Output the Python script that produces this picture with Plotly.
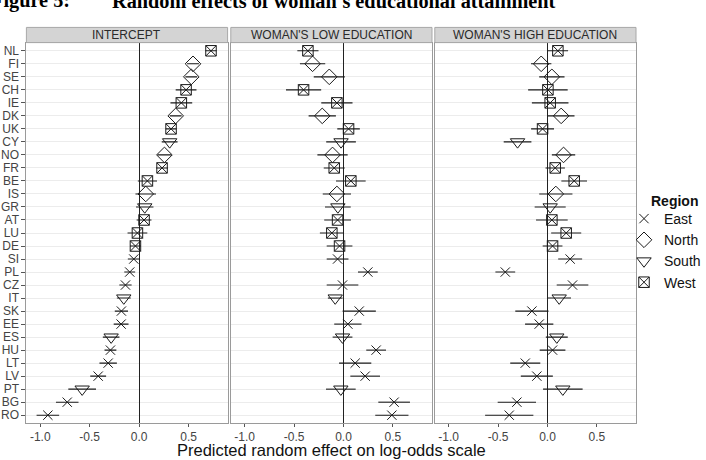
import plotly.graph_objects as go

countries = ["NL", "FI", "SE", "CH", "IE", "DK", "UK", "CY", "NO", "FR", "BE", "IS", "GR", "AT", "LU",
             "DE", "SI", "PL", "CZ", "IT", "SK", "EE", "ES", "HU", "LT", "LV", "PT", "BG", "RO"]
regions = ["West", "North", "North", "West", "West", "North", "West", "South", "North", "West", "West",
           "North", "South", "West", "West", "West", "East", "East", "East", "South", "East", "East",
           "South", "East", "East", "East", "South", "East", "East"]

intercept = [0.727, 0.545, 0.528, 0.475, 0.427, 0.370, 0.323, 0.309, 0.256, 0.232, 0.084, 0.067, 0.057,
             0.050, -0.017, -0.037, -0.054, -0.095, -0.138, -0.155, -0.179, -0.182, -0.283, -0.290,
             -0.313, -0.414, -0.576, -0.727, -0.923]
intercept_err = [0.057, 0.06, 0.06, 0.105, 0.11, 0.06, 0.055, 0.08, 0.07, 0.06, 0.097, 0.104, 0.088,
                 0.075, 0.1, 0.055, 0.06, 0.055, 0.062, 0.07, 0.067, 0.075, 0.084, 0.06, 0.088, 0.08,
                 0.14, 0.114, 0.114]

low_edu = [-0.36, -0.313, -0.144, -0.404, -0.067, -0.215, 0.051, -0.025, -0.111, -0.094, 0.074, -0.067,
           -0.057, -0.06, -0.118, -0.04, -0.06, 0.246, -0.01, -0.084, 0.159, 0.044, -0.01, 0.33, 0.118,
           0.219, -0.027, 0.512, 0.489]
low_edu_err = [0.107, 0.128, 0.157, 0.178, 0.158, 0.138, 0.114, 0.15, 0.153, 0.106, 0.15, 0.143, 0.13,
               0.135, 0.121, 0.13, 0.11, 0.1, 0.16, 0.074, 0.168, 0.138, 0.1, 0.1, 0.163, 0.15, 0.15,
               0.16, 0.168]

high_edu = [0.105, -0.064, 0.044, 0.004, 0.027, 0.138, -0.05, -0.303, 0.162, 0.078, 0.27, 0.084, 0.027,
            0.044, 0.189, 0.051, 0.229, -0.427, 0.253, 0.118, -0.158, -0.084, 0.094, 0.051, -0.225,
            -0.108, 0.155, -0.31, -0.387]
high_edu_err = [0.103, 0.103, 0.128, 0.2, 0.185, 0.135, 0.116, 0.14, 0.118, 0.098, 0.13, 0.168, 0.157,
                0.16, 0.152, 0.1, 0.121, 0.1, 0.16, 0.12, 0.168, 0.143, 0.111, 0.13, 0.152, 0.162, 0.2,
                0.194, 0.244]

panel_titles = ["INTERCEPT", "WOMAN'S LOW EDUCATION", "WOMAN'S HIGH EDUCATION"]
panel_values = [intercept, low_edu, high_edu]
panel_errors = [intercept_err, low_edu_err, high_edu_err]
region_order = ["East", "North", "South", "West"]
tick_vals = [-1.0, -0.5, 0.0, 0.5]
tick_text = ["-1.0", "-0.5", "0.0", "0.5"]
x_title = "Predicted random effect on log-odds scale"
legend_title = "Region"
fig_label = "Figure 5:"
fig_title = "Random effects of woman's educational attainment"

symbols = {"East": "x-thin-open", "North": "diamond-open", "South": "triangle-down-open", "West": "square-x-open"}
sizes = {"East": 9.3, "North": 12, "South": 12.5, "West": 10.5}

W, H = 706, 460
ML, MR, MT, MB = 26, 70, 43, 37
PW = W - ML - MR
PH = H - MT - MB
panel_px = [(26.4, 227.6), (230.8, 432.0), (434.8, 636.0)]
domains = [[(a - ML) / PW, min(1.0, (b - ML) / PW)] for a, b in panel_px]


def py(px):
    """pixel row (from top) -> paper y"""
    return (MT + PH - px) / PH


def pxx(px):
    return (px - ML) / PW


INK = "#1a1a1a"
FONT = "Liberation Sans"

fig = go.Figure()
for p in range(3):
    xa = "x" if p == 0 else f"x{p+1}"
    ya = "y" if p == 0 else f"y{p+1}"
    for reg in region_order:
        idx = [i for i, r in enumerate(regions) if r == reg]
        fig.add_trace(go.Scatter(
            x=[panel_values[p][i] for i in idx],
            y=[countries[i] for i in idx],
            mode="markers",
            name=reg,
            legendgroup=reg,
            showlegend=(p == 0),
            xaxis=xa, yaxis=ya,
            marker=dict(symbol=symbols[reg], size=sizes[reg], color=INK,
                        line=dict(color=INK, width=1)),
            error_x=dict(type="data", array=[panel_errors[p][i] for i in idx],
                         symmetric=True, color=INK, thickness=1.1, width=0),
        ))

n = len(countries)
layout = dict(
    width=W, height=H, autosize=False,
    margin=dict(l=ML, r=MR, t=MT, b=MB, pad=0, autoexpand=False),
    plot_bgcolor="white", paper_bgcolor="white",
    font=dict(family=FONT, color=INK),
    showlegend=True,
    legend=dict(
        font=dict(size=14, family=FONT, color="#111"),
        x=pxx(624), xanchor="left", y=py(203), yanchor="top",
        bgcolor="rgba(0,0,0,0)", itemwidth=30, tracegroupgap=0,
    ),
)
for p in range(3):
    xk = "xaxis" if p == 0 else f"xaxis{p+1}"
    yk = "yaxis" if p == 0 else f"yaxis{p+1}"
    layout[xk] = dict(
        domain=domains[p], range=[-1.14, 0.895], anchor="y" if p == 0 else f"y{p+1}",
        tickvals=tick_vals, ticktext=tick_text, ticks="outside", ticklen=3, tickcolor="#555",
        tickfont=dict(size=12, family=FONT, color="#444"),
        showgrid=False, zeroline=True, zerolinecolor="#222", zerolinewidth=1.2,
        showline=True, mirror=True, linecolor="#9a9a9a", linewidth=1, automargin=False,
    )
    layout[yk] = dict(
        domain=[0, 1], anchor="x" if p == 0 else f"x{p+1}",
        type="category", categoryorder="array", categoryarray=countries,
        tickmode="array", tickvals=countries, ticktext=countries,
        range=[n - 1 + 0.6, -0.6],
        showgrid=True, gridcolor="#ececec", gridwidth=1,
        ticks="outside" if p == 0 else "", ticklen=4, tickcolor="#555",
        showticklabels=(p == 0),
        tickfont=dict(size=12, family=FONT, color="#444"),
        showline=True, mirror=True, linecolor="#9a9a9a", linewidth=1,
        zeroline=False, automargin=False,
    )
    if p > 0:
        layout[yk]["matches"] = "y"
fig.update_layout(**layout)

shapes = []
annotations = []
for p in range(3):
    xr = "x domain" if p == 0 else f"x{p+1} domain"
    yr = "y domain" if p == 0 else f"y{p+1} domain"
    shapes.append(dict(type="rect", xref=xr, yref=yr, x0=0, x1=1, y0=1.001, y1=1.041,
                       fillcolor="#d4d4d4", line=dict(color="#a8a8a8", width=1), layer="above"))
    annotations.append(dict(text=panel_titles[p], xref=xr, yref=yr, x=0.5, y=1.021,
                            xanchor="center", yanchor="middle", showarrow=False,
                            font=dict(size=12, family=FONT, color="#2a2a2a")))

annotations.append(dict(text=x_title, xref="paper", yref="paper", x=0.5, y=py(450),
                        xanchor="center", yanchor="middle", showarrow=False,
                        font=dict(size=16.5, family=FONT, color="#111")))
annotations.append(dict(text="<b>" + legend_title + "</b>", xref="paper", yref="paper",
                        x=pxx(649), y=py(201), xanchor="left", yanchor="middle", showarrow=False,
                        font=dict(size=14, family=FONT, color="#111")))
annotations.append(dict(text="<b>" + fig_label + "</b>", xref="paper", yref="paper",
                        x=pxx(72), y=py(0.8), xanchor="right", yanchor="middle",
                        showarrow=False, font=dict(size=20.3, family="Liberation Serif", color="black")))
annotations.append(dict(text="<b>" + fig_title + "</b>", xref="paper", yref="paper",
                        x=pxx(110), y=py(0.8), xanchor="left", yanchor="middle",
                        showarrow=False, font=dict(size=20.3, family="Liberation Serif", color="black")))
fig.update_layout(shapes=shapes, annotations=annotations)

fig.write_html("out.html")
